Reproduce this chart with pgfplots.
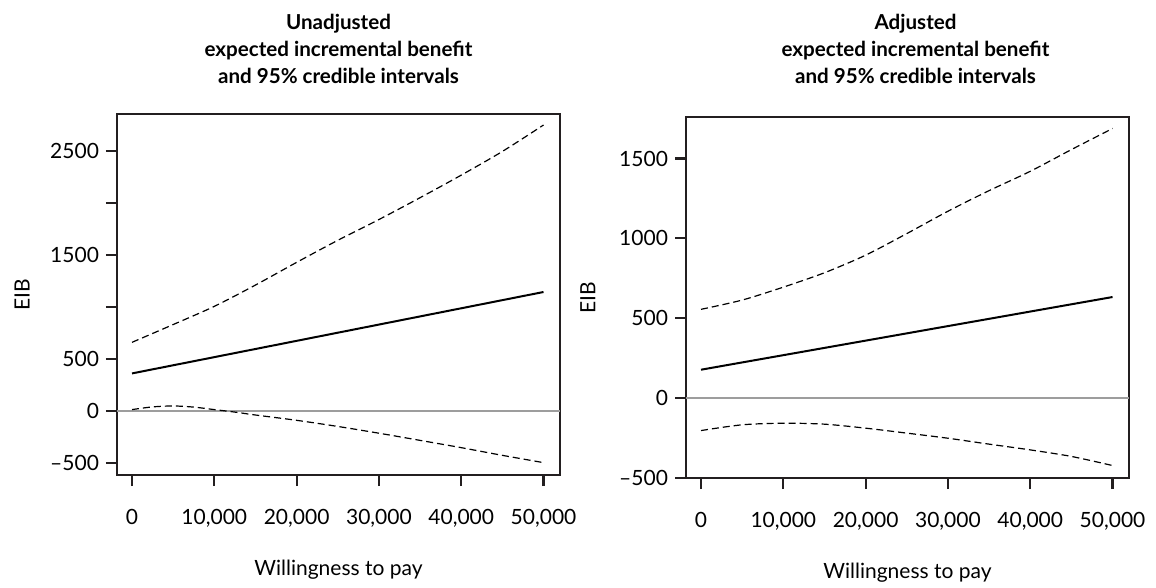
\documentclass[border=0pt]{standalone}
\usepackage{fontspec}
\setmainfont{Lato}
\usepackage{pgfplots}
\pgfplotsset{compat=1.18}
\definecolor{frame}{HTML}{231F20}
\definecolor{zeroline}{HTML}{9D9D9D}
\pgfplotsset{
  eib/.style={
    scale only axis,
    width=221.5pt, height=180.5pt,
    font=\fontsize{10.5}{12.6}\selectfont,
    /pgf/number format/assume math mode=true,
    axis line style={frame, line width=1.1pt},
    every tick/.style={frame, line width=1.1pt},
    tick align=outside,
    major tick length=5.5pt,
    xtick pos=bottom, ytick pos=left,
    xmin=-1825, xmax=52000,
    xtick={0,10000,20000,30000,40000,50000},
    xticklabels={0,{10,000},{20,000},{30,000},{40,000},{50,000}},
    scaled x ticks=false,
    xticklabel style={anchor=base, yshift=-19pt},
    xlabel={Willingness to pay},
    xlabel style={at={(axis description cs:0.5,0)}, anchor=base, yshift=-50pt},
    ylabel={EIB},
    title style={font=\fontsize{10.3}{13.5}\selectfont\bfseries, align=center, anchor=south},
    mean/.style={black, line width=1pt, no marks},
    ci/.style={black, line width=0.6pt, dash pattern=on 3.5pt off 2pt, no marks, smooth},
  }
}
\begin{document}
\begin{tikzpicture}
\path[use as bounding box] (0,0) rectangle (578pt,-294pt);
% ---------------- left: unadjusted
\begin{axis}[eib,
  at={(58.5pt,-237.5pt)}, anchor=south west,
  ymin=-617, ymax=2855,
  ytick={-500,0,500,1000,1500,2000,2500},
  yticklabels={--500,0,500,{},1500,{},2500},
  ylabel style={at={(axis description cs:-0.2144,0.5)}, anchor=center},
  title={Unadjusted\\expected incremental benefit\\and 95\% credible intervals},
  title style={at={(0.5,1)}, yshift=5.5pt},
]
\addplot[zeroline, line width=1pt, no marks] coordinates {(-1825,0) (52000,0)};
\addplot[mean] coordinates {(0,360) (50000,1143)};
\addplot[ci] coordinates {
 (0,659) (5000,830) (10000,1005) (15000,1210) (20000,1428) (25000,1640)
 (30000,1840) (35000,2050) (40000,2267) (45000,2495) (50000,2749)};
\addplot[ci] coordinates {
 (0,12) (2500,38) (5000,47) (7500,36) (10000,12) (12500,-12) (15000,-40)
 (20000,-91) (25000,-150) (30000,-215) (35000,-284) (40000,-354) (45000,-428) (50000,-498)};
\end{axis}
% ---------------- right: adjusted
\begin{axis}[eib,
  at={(343pt,-239pt)}, anchor=south west,
  ymin=-500, ymax=1760,
  ytick={-500,0,500,1000,1500},
  yticklabels={--500,0,500,1000,1500},
  ylabel style={at={(axis description cs:-0.2217,0.5)}, anchor=center},
  title={Adjusted\\expected incremental benefit\\and 95\% credible intervals},
  title style={at={(0.5,1)}, yshift=7pt, xshift=4pt},
]
\addplot[zeroline, line width=1pt, no marks] coordinates {(-1825,0) (52000,0)};
\addplot[mean] coordinates {(0,178) (50000,633)};
\addplot[ci] coordinates {
 (0,556) (5000,614) (10000,695) (15000,785) (20000,895) (25000,1030)
 (30000,1170) (35000,1299) (40000,1420) (45000,1556) (50000,1688)};
\addplot[ci] coordinates {
 (0,-203) (5000,-167) (10000,-157) (15000,-163) (20000,-188) (25000,-219)
 (30000,-251) (35000,-288) (40000,-324) (45000,-365) (50000,-422)};
\end{axis}
\end{tikzpicture}
\end{document}
